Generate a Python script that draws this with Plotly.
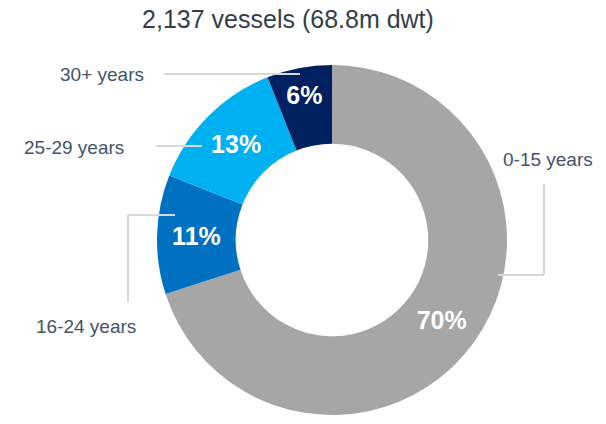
import plotly.graph_objects as go

# Fleet age profile
age_groups = ["0-15 years", "16-24 years", "25-29 years", "30+ years"]
shares = [70, 11, 13, 6]
colors = ["#A6A6A6", "#0070C0", "#00B0F0", "#002060"]
title_text = "2,137 vessels (68.8m dwt)"

W, H = 606, 424
FONT = "Liberation Sans, Arial, sans-serif"


def px(x):
    return x / W


def py(y):
    return 1 - y / H


fig = go.Figure()

fig.add_trace(
    go.Pie(
        labels=age_groups,
        values=shares,
        marker=dict(colors=colors, line=dict(width=0)),
        hole=0.55,
        sort=False,
        direction="clockwise",
        rotation=0,
        texttemplate="<b>%{value}%</b>",
        textposition="inside",
        insidetextorientation="horizontal",
        textfont=dict(family=FONT, size=25, color="white"),
        showlegend=False,
        hoverinfo="label+percent",
        domain=dict(x=[px(332 - 176), px(332 + 176)], y=[py(415), py(65)]),
    )
)

# outside labels
label_pos = {
    "0-15 years": (548, 159),
    "16-24 years": (86, 326),
    "25-29 years": (74, 147),
    "30+ years": (102, 75),
}
for name, (x, y) in label_pos.items():
    fig.add_annotation(
        x=px(x), y=py(y), xref="paper", yref="paper",
        text=name, showarrow=False, xanchor="center", yanchor="middle",
        font=dict(family=FONT, size=19, color="#44546A"),
    )

# leader lines
line_style = dict(color="#D9D9D9", width=2)
leaders = [
    [(164, 74), (300, 74)],
    [(156, 146), (202, 146)],
    [(175, 215), (128, 215), (128, 302)],
    [(498, 275), (544, 275), (544, 184)],
]
for pts in leaders:
    for (x0, y0), (x1, y1) in zip(pts[:-1], pts[1:]):
        fig.add_shape(
            type="line", xref="paper", yref="paper",
            x0=px(x0), y0=py(y0), x1=px(x1), y1=py(y1), line=line_style,
        )

fig.update_layout(
    width=W, height=H,
    margin=dict(t=0, r=0, b=0, l=0),
    paper_bgcolor="white",
    plot_bgcolor="white",
    title=dict(
        text=title_text, x=px(288), xanchor="center", y=py(19), yanchor="middle",
        font=dict(family=FONT, size=25, color="#333F48"),
    ),
)

fig.write_html(
    "out.html",
    config={"displayModeBar": False},
    post_script="document.body.style.margin='0';",
)
